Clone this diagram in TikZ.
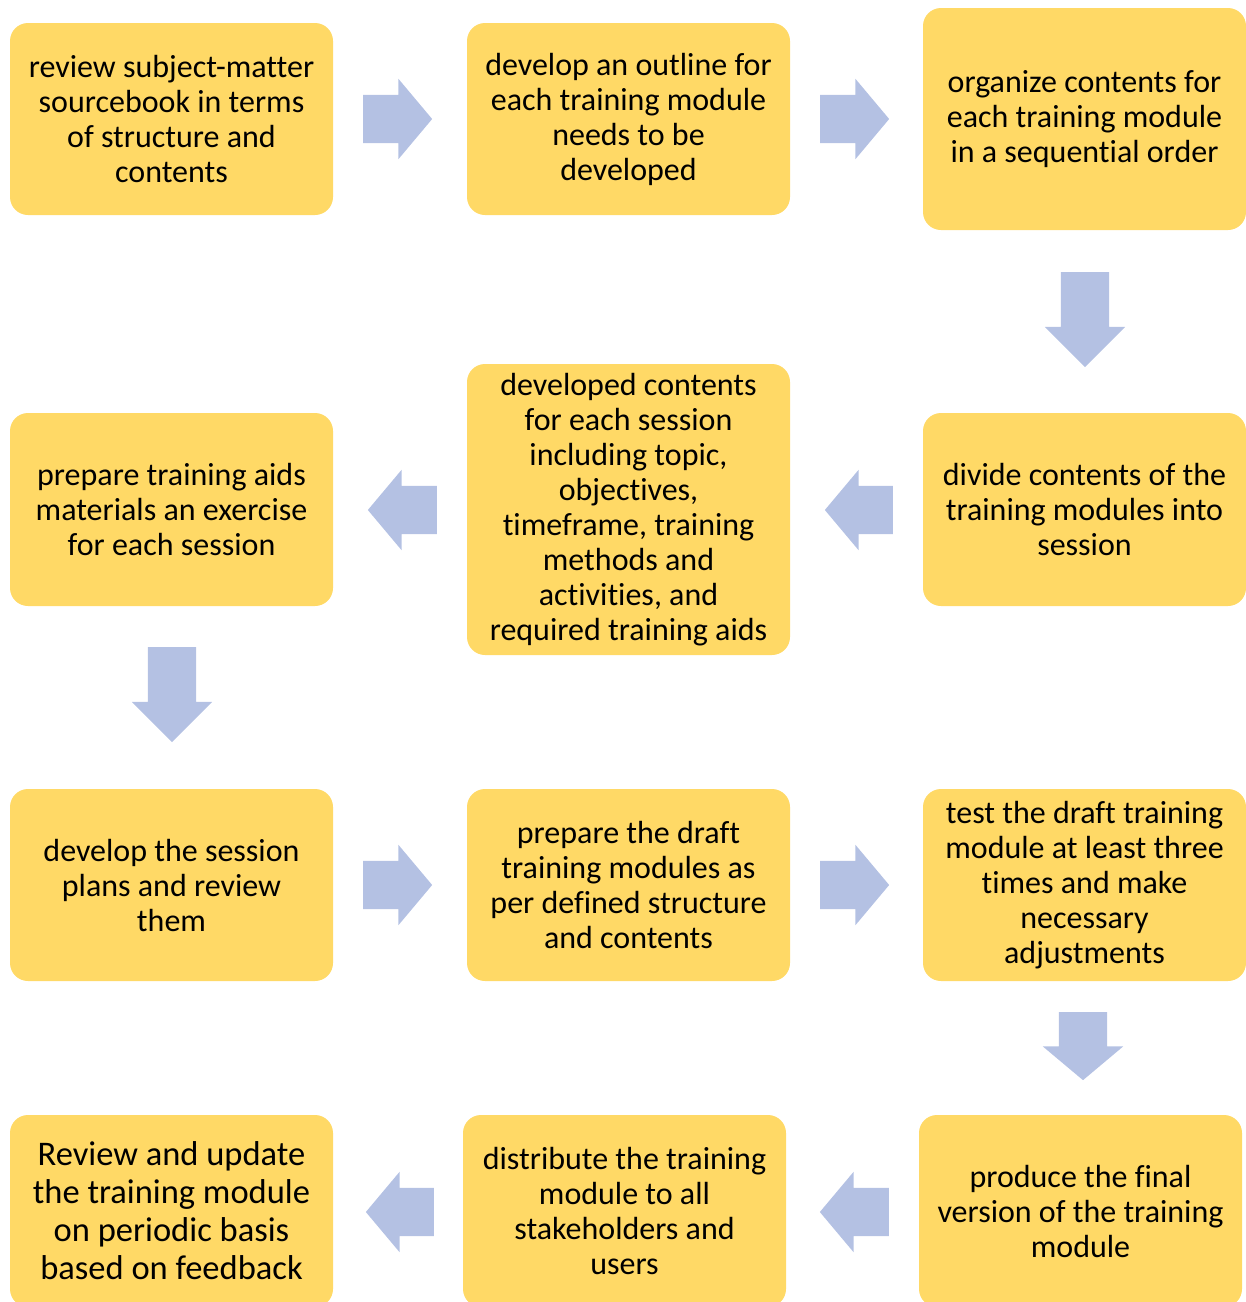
\documentclass[tikz,border=0pt]{standalone}
\usepackage{fontspec}
\setmainfont[Ligatures=NoCommon]{Carlito}
\usetikzlibrary{shapes,arrows}
\definecolor{boxYellow}{HTML}{FFD966}
\definecolor{arrowBlue}{HTML}{B4C1E3}
\tikzstyle{block} = [fill=boxYellow, rectangle, rounded corners=18pt,
    minimum height=192pt, minimum width=323pt, inner sep=0pt, align=center,
    font=\fontsize{32}{35}\selectfont]
\tikzstyle{flow} = [single arrow, fill=arrowBlue, draw=none, inner xsep=0pt, inner ysep=24pt,
    minimum width=80pt, single arrow head extend=16pt, single arrow tip angle=100]
\tikzstyle{flowdown} = [flow, shape border rotate=270, inner xsep=24pt, inner ysep=0pt]

\begin{document}
\begin{tikzpicture}[x=1pt, y=-1pt]
    \useasboundingbox (0,0) rectangle (1246,1302);
    \clip (0,0) rectangle (1246,1302);
    % first row
    \node [block] (reviewSource) at (171.5,119) {review subject-matter\\sourcebook in terms\\of structure and\\contents};
    \node [block] (outline) at (628.5,119) {develop an outline for\\each training module\\needs to be\\developed};
    \node [block, minimum height=222pt] (organize) at (1084.5,119) {organize contents for\\each training module\\in a sequential order};
    \node [flow, minimum height=69pt] (flowA) at (387.5,119) {};
    \node [flow, minimum height=69pt] (flowB) at (844.5,119) {};
    \node [flowdown, minimum height=95pt, single arrow tip angle=90] (flowC) at (1085,307.5) {};
    % second row
    \node [block, minimum height=193pt] (divide) at (1084.5,509.5) {divide contents of the\\training modules into\\session};
    \node [block, minimum height=291pt] (developContents) at (628.5,509.5) {developed contents\\for each session\\including topic,\\objectives,\\timeframe, training\\methods and\\activities, and\\required training aids};
    \node [block, minimum height=193pt] (prepareAids) at (171.5,509.5) {prepare training aids\\materials an exercise\\for each session};
    \node [flow, minimum height=68pt, shape border rotate=180] (flowD) at (869,510) {};
    \node [flow, minimum height=69pt, shape border rotate=180] (flowE) at (412.5,510) {};
    \node [flowdown, minimum height=95pt, single arrow tip angle=90] (flowF) at (172,682.5) {};
    % third row
    \node [block] (sessionPlans) at (171.5,885) {develop the session\\plans and review\\them};
    \node [block] (draftModules) at (628.5,885) {prepare the draft\\training modules as\\per defined structure\\and contents};
    \node [block] (testDraft) at (1084.5,885) {test the draft training\\module at least three\\times and make\\necessary\\adjustments};
    \node [flow, minimum height=69pt] (flowG) at (387.5,885) {};
    \node [flow, minimum height=69pt] (flowH) at (844.5,885) {};
    \node [flowdown, minimum height=68pt] (flowI) at (1083,1036) {};
    % last row
    \node [block] (finalVersion) at (1080.5,1211) {produce the final\\version of the training\\module};
    \node [block] (distribute) at (624.5,1211) {distribute the training\\module to all\\stakeholders and\\users};
    \node [block, font=\fontsize{34.5}{38}\selectfont] (reviewUpdate) at (171.5,1211) {Review and update\\the training module\\on periodic basis\\based on feedback};
    \node [flow, minimum height=69pt, shape border rotate=180] (flowJ) at (864.5,1212) {};
    \node [flow, minimum height=68pt, shape border rotate=180] (flowK) at (410,1212) {};
\end{tikzpicture}
\end{document}
